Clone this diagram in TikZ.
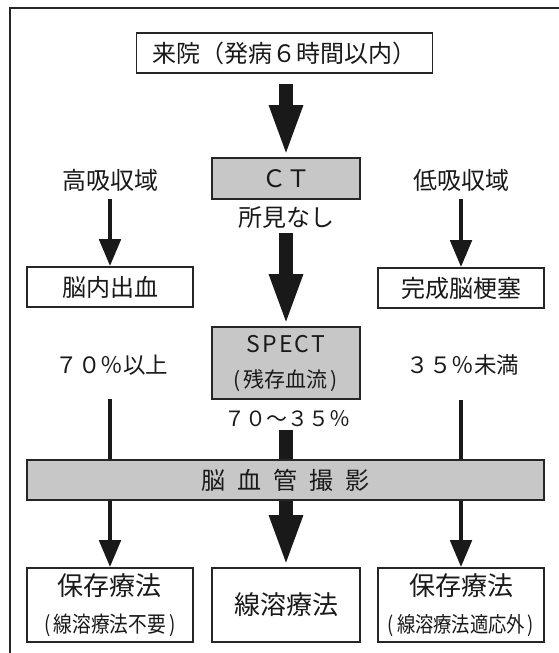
\documentclass[tikz,border=0pt]{standalone}
\usepackage{fontspec}
\setmainfont{Noto Sans CJK JP}
\newfontfamily\narrowjp[FakeStretch=0.85]{Noto Sans CJK JP}
\usetikzlibrary{arrows.meta}
\newcommand\lpar{(\hspace{3pt}}
\newcommand\rpar{\hspace{3pt})}
\begin{document}
\begin{tikzpicture}[x=1pt,y=-1pt,
  every node/.style={text=black!90},
  box/.style={draw=black!85, line width=1.6pt, fill=white, inner sep=0pt, align=center},
  graybox/.style={box, fill=black!22},
  lbl/.style={inner sep=0pt, font=\fontsize{24}{28}\selectfont},
  bigtxt/.style={font=\fontsize{24}{28}\selectfont},
  thinarrow/.style={draw=black!90, line width=4.8pt, -{Triangle[width=21pt,length=27pt]}},
  thickarrow/.style={draw=black!90, line width=14pt, -{Triangle[width=30pt,length=52pt]}},
  frame/.style={draw=black!85, line width=1.5pt}
]
\useasboundingbox (0,0) rectangle (558,653);
\draw[frame] (10,680) -- (10,8) -- (580,8);

% boxes
\node[box, bigtxt, minimum width=296pt, minimum height=40pt] (start) at (284.5,53) {来院（発病６時間以内）};
\node[graybox, bigtxt, minimum width=148pt, minimum height=41pt] (ct) at (286,178.5) {ＣＴ};
\node[lbl] (hi) at (110,180) {高吸収域};
\node[lbl] (lo) at (461,180) {低吸収域};
\node[lbl] (nashi) at (286,218) {所見なし};
\node[box, bigtxt, minimum width=166pt, minimum height=40pt] (ich) at (110,287) {脳内出血};
\node[box, bigtxt, minimum width=166pt, minimum height=40pt] (inf) at (461,288) {完成脳梗塞};
\node[graybox, minimum width=148pt, minimum height=72pt, font=\fontsize{21}{35}\selectfont] (spect) at (286,363)
  {{\fontsize{23}{26}\selectfont S\hspace{2pt}P\hspace{2pt}E\hspace{2pt}C\hspace{2pt}T}\\\lpar 残存血流\rpar};
\node[lbl, font=\fontsize{22.5}{28}\selectfont] (p70) at (112,365) {７０％以上};
\node[lbl, font=\fontsize{22.5}{28}\selectfont] (p35) at (463,365) {３５％未満};
\node[lbl, font=\fontsize{21}{24}\selectfont] (mid) at (287,419) {７０～３５％};
\node[box, minimum width=166pt, minimum height=74pt, font=\narrowjp\fontsize{22}{37}\selectfont] (b1) at (110,605)
  {{\rmfamily\fontsize{26}{30}\selectfont 保存療法}\\\lpar 線溶療法不要\rpar};
\node[box, minimum width=148pt, minimum height=74pt, font=\fontsize{26}{30}\selectfont] (b2) at (286,605) {線溶療法};
\node[box, minimum width=166pt, minimum height=74pt, font=\narrowjp\fontsize{21.5}{37}\selectfont] (b3) at (461,605)
  {{\rmfamily\fontsize{26}{30}\selectfont 保存療法}\\\lpar 線溶療法適応外\rpar};

% arrows
\draw[thickarrow, shorten <=10pt] (start.south -| ct.north) -- (ct.north);
\draw[thickarrow, shorten <=4pt] (nashi.south -| spect.north) -- (spect.north);
\draw[thinarrow, shorten <=8pt] (hi.south) -- (ich.north);
\draw[thinarrow, shorten <=8pt] (lo.south) -- (inf.north);
\draw[thinarrow, shorten <=24pt] (p70.south -| b1.north) -- (b1.north);
\draw[thinarrow, shorten <=24pt] (p35.south -| b3.north) -- (b3.north);
\draw[thickarrow, shorten <=3pt] (mid.south -| b2.north) -- (b2.north);

% angiography box on top of the vertical lines
\node[graybox, bigtxt, minimum width=517pt, minimum height=40pt] (angio) at (285.5,480)
  {脳\hspace{12pt}血\hspace{12pt}管\hspace{12pt}撮\hspace{12pt}影};
\end{tikzpicture}
\end{document}
